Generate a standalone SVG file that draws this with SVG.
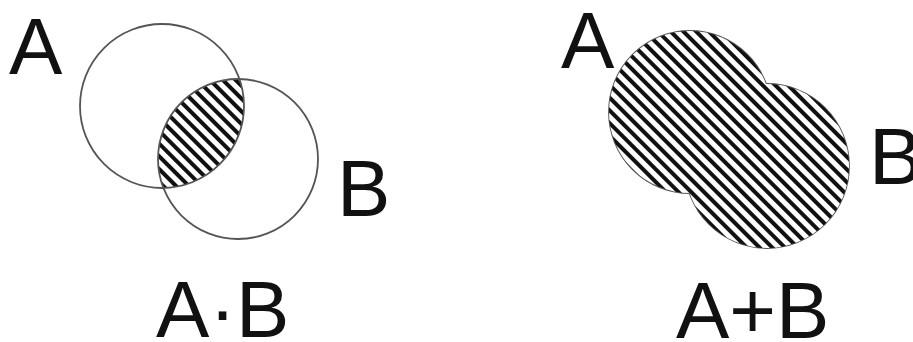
<svg xmlns="http://www.w3.org/2000/svg" width="913" height="342" viewBox="0 0 913 342">
<style>
.lbl{font-family:"Liberation Sans",Arial,sans-serif;font-size:80px;fill:#111}
.ring{fill:none;stroke:#555;stroke-width:1.8}
.hatch{fill:url(#hatch)}
</style>
<defs>
<pattern id="hatch" patternUnits="userSpaceOnUse" width="9" height="9" patternTransform="rotate(-45)">
<rect width="9" height="9" fill="#fff"/>
<rect x="0" y="0" width="4" height="9" fill="#111"/>
</pattern>
<clipPath id="clipB"><circle cx="238" cy="159" r="80"/></clipPath>
</defs>
<rect width="913" height="342" fill="#fff"/>
<g id="and-diagram">
<g id="and-lens"><circle class="hatch" cx="162" cy="106" r="82" clip-path="url(#clipB)"/></g>
<g id="and-circleA"><circle class="ring" cx="162" cy="106" r="82"/></g>
<g id="and-circleB"><circle class="ring" cx="238" cy="159" r="80"/></g>
<text class="lbl" x="9" y="74">A</text>
<text class="lbl" x="337" y="216">B</text>
<text class="lbl" x="156" y="337">A·B</text>
</g>
<g id="or-diagram">
<g id="or-outline">
<circle class="ring" cx="690" cy="112" r="81"/>
<circle class="ring" cx="767" cy="166" r="82"/>
</g>
<g id="or-circleA"><circle class="hatch" cx="690" cy="112" r="81"/></g>
<g id="or-circleB"><circle class="hatch" cx="767" cy="166" r="82"/></g>
<text class="lbl" x="561" y="68">A</text>
<text class="lbl" x="869" y="184">B</text>
<text class="lbl" x="676" y="338">A+B</text>
</g>
</svg>
